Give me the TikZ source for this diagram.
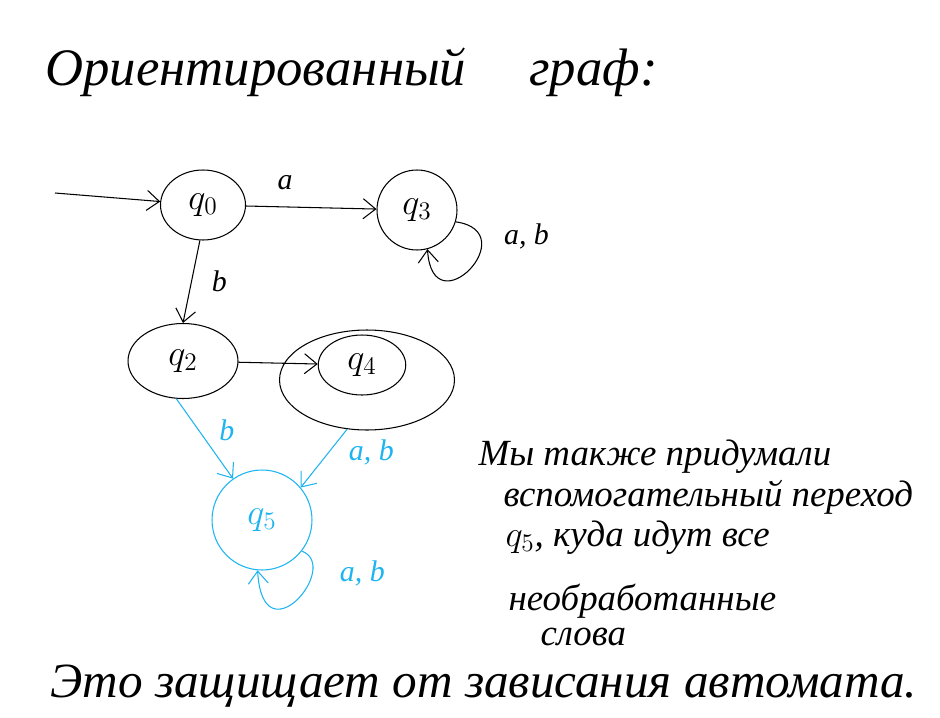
\documentclass[tikz,border=0pt]{standalone}
\usepackage{fontspec}
\setmainfont{Liberation Serif}
\usetikzlibrary{shapes.geometric,arrows.meta}
\definecolor{inkblue}{RGB}{30,180,240}
\begin{document}
\begin{tikzpicture}[x=0.02cm, y=-0.02cm, >={Straight Barb[length=2.5mm,width=4mm]},
  line width=0.6pt,
  state/.style={draw, inner sep=0pt, font=\fontsize{20}{22}\selectfont},
  oval/.style={state, ellipse},
  round/.style={state, circle},
  lbl/.style={font=\itshape\fontsize{17}{19}\selectfont},
  hand/.style={font=\itshape\fontsize{21}{23}\selectfont, anchor=base west, inner sep=0pt}]
\useasboundingbox (0,0) rectangle (940,717);

% title
\node[hand, font=\itshape\fontsize{30}{32}\selectfont] (title) at (45,85) {Ориентированный\hspace{1.2em}граф:};

% states
\node[oval, minimum width=1.7cm, minimum height=1.4cm] (q0) at (203,205) {$q_0$};
\node[round, minimum size=1.6cm] (q3) at (417,210) {$q_3$};
\node[oval, minimum width=2.2cm, minimum height=1.5cm] (q2) at (183,361) {$q_2$};
\node[oval, minimum width=1.75cm, minimum height=1.2cm] (q4) at (362,365) {$q_4$};
\node[oval, minimum width=3.5cm, minimum height=2cm] (q4out) at (367,380) {};
\node[round, draw=inkblue, text=inkblue, minimum size=2cm] (q5) at (262,520) {$q_5$};
\coordinate (start) at (55,193);

% transitions
\draw[->] (start) -- (q0);
\draw[->] (q0) -- node[lbl, pos=0.3, above=6pt] {a} (q3);
\draw[->] (q3.-17) .. controls +(70,10) and +(5,80) .. (q3.-75) node[lbl, pos=0.2, right=10pt] {a, b};
\draw[->] (q0.-95) -- node[lbl, right=8pt] {b} (q2.north);
\draw[->] (q2) -- (q4);

\begin{scope}[inkblue]
\draw[->] (q2.-100) -- node[lbl, right=8pt, pos=0.4] {b} (q5.125);
\draw[->] (q4out.-112) -- node[lbl, right=8pt, pos=0.4] {a, b} (q5.40);
\draw[->] (q5.-38) .. controls +(40,15) and +(5,90) .. (q5.-95) node[lbl, pos=0.25, right=12pt] {a, b};
\end{scope}

% notes
\node[hand] (n1) at (478,465) {Мы также придумали};
\node[hand] (n2) at (503,506) {вспомогательный переход};
\node[hand] (n3) at (505,546) {$q_5$, куда идут все};
\node[hand] (n4) at (508,610) {необработанные};
\node[hand] (n5) at (540,645) {слова};
\node[hand, font=\itshape\fontsize{28}{30}\selectfont] (n6) at (50,697) {Это защищает от зависания автомата.};
\end{tikzpicture}
\end{document}
